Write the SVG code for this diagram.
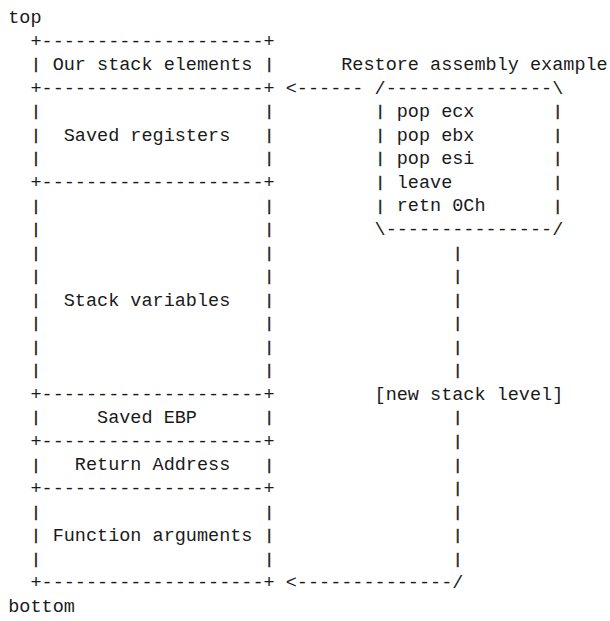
<svg xmlns="http://www.w3.org/2000/svg" xmlns:xlink="http://www.w3.org/1999/xlink" width="610" height="621" viewBox="0 0 610 621" xml:space="preserve">
  <style>
    text { font-family: "Liberation Mono", "Courier New", monospace; font-size: 18.5px; fill: #1a1a1a; white-space: pre; }
    text.bar { font-size: 14px; text-anchor: middle; stroke: #1a1a1a; stroke-width: 0.6px; }
  </style>
  <defs>
    <!-- short vertical stroke used for every box side and the return line -->
    <text id="bar" class="bar" x="0" y="0">|</text>
  </defs>
  <rect width="610" height="621" fill="#fff"/>

  <!-- character grid: cell x = 8.25 + 11.1 * col ; rows step 23.55 -->
  <g id="label-top"><text x="8.25" y="23">top</text></g>

  <g id="seg-our-stack-elements">
    <text x="30.45" y="46.5">+--------------------+</text>
    <use xlink:href="#bar" x="36" y="69.2"/><use xlink:href="#bar" x="269.1" y="69.2"/>
    <text x="52.65" y="70.1">Our stack elements</text>
  </g>

  <g id="seg-saved-registers">
    <text x="30.45" y="93.6">+--------------------+</text>
    <use xlink:href="#bar" x="36" y="116.3"/><use xlink:href="#bar" x="269.1" y="116.3"/>
    <use xlink:href="#bar" x="36" y="139.8"/><use xlink:href="#bar" x="269.1" y="139.8"/>
    <use xlink:href="#bar" x="36" y="163.4"/><use xlink:href="#bar" x="269.1" y="163.4"/>
    <text x="63.75" y="140.7">Saved registers</text>
  </g>

  <g id="seg-stack-variables">
    <text x="30.45" y="187.8">+--------------------+</text>
    <use xlink:href="#bar" x="36" y="210.5"/><use xlink:href="#bar" x="269.1" y="210.5"/>
    <use xlink:href="#bar" x="36" y="234"/><use xlink:href="#bar" x="269.1" y="234"/>
    <use xlink:href="#bar" x="36" y="257.6"/><use xlink:href="#bar" x="269.1" y="257.6"/>
    <use xlink:href="#bar" x="36" y="281.1"/><use xlink:href="#bar" x="269.1" y="281.1"/>
    <use xlink:href="#bar" x="36" y="304.7"/><use xlink:href="#bar" x="269.1" y="304.7"/>
    <use xlink:href="#bar" x="36" y="328.2"/><use xlink:href="#bar" x="269.1" y="328.2"/>
    <use xlink:href="#bar" x="36" y="351.8"/><use xlink:href="#bar" x="269.1" y="351.8"/>
    <use xlink:href="#bar" x="36" y="375.3"/><use xlink:href="#bar" x="269.1" y="375.3"/>
    <text x="63.75" y="305.6">Stack variables</text>
  </g>

  <g id="seg-saved-ebp">
    <text x="30.45" y="399.8">+--------------------+</text>
    <use xlink:href="#bar" x="36" y="422.4"/><use xlink:href="#bar" x="269.1" y="422.4"/>
    <text x="97.05" y="423.3">Saved EBP</text>
  </g>

  <g id="seg-return-address">
    <text x="30.45" y="446.9">+--------------------+</text>
    <use xlink:href="#bar" x="36" y="469.5"/><use xlink:href="#bar" x="269.1" y="469.5"/>
    <text x="74.85" y="470.4">Return Address</text>
  </g>

  <g id="seg-function-arguments">
    <text x="30.45" y="494">+--------------------+</text>
    <use xlink:href="#bar" x="36" y="516.6"/><use xlink:href="#bar" x="269.1" y="516.6"/>
    <use xlink:href="#bar" x="36" y="540.2"/><use xlink:href="#bar" x="269.1" y="540.2"/>
    <use xlink:href="#bar" x="36" y="563.7"/><use xlink:href="#bar" x="269.1" y="563.7"/>
    <text x="52.65" y="541.1">Function arguments</text>
    <text x="30.45" y="588.2">+--------------------+</text>
  </g>

  <g id="restore-assembly">
    <text x="341.25" y="70.1">Restore assembly example</text>
    <text x="374.55" y="93.6">/---------------\</text>
    <use xlink:href="#bar" x="380.1" y="116.3"/><use xlink:href="#bar" x="557.7" y="116.3"/>
    <use xlink:href="#bar" x="380.1" y="139.8"/><use xlink:href="#bar" x="557.7" y="139.8"/>
    <use xlink:href="#bar" x="380.1" y="163.4"/><use xlink:href="#bar" x="557.7" y="163.4"/>
    <use xlink:href="#bar" x="380.1" y="186.9"/><use xlink:href="#bar" x="557.7" y="186.9"/>
    <use xlink:href="#bar" x="380.1" y="210.5"/><use xlink:href="#bar" x="557.7" y="210.5"/>
    <text x="396.75" y="117.2">pop ecx</text>
    <text x="396.75" y="140.7">pop ebx</text>
    <text x="396.75" y="164.3">pop esi</text>
    <text x="396.75" y="187.8">leave</text>
    <text x="396.75" y="211.4">retn 0Ch</text>
    <text x="374.55" y="234.9">\---------------/</text>
  </g>

  <g id="connectors">
    <text x="285.75" y="93.6">&lt;------</text>
    <use xlink:href="#bar" x="457.8" y="257.6"/>
    <use xlink:href="#bar" x="457.8" y="281.1"/>
    <use xlink:href="#bar" x="457.8" y="304.7"/>
    <use xlink:href="#bar" x="457.8" y="328.2"/>
    <use xlink:href="#bar" x="457.8" y="351.8"/>
    <use xlink:href="#bar" x="457.8" y="375.3"/>
    <text x="374.55" y="399.8">[new stack level]</text>
    <use xlink:href="#bar" x="457.8" y="422.4"/>
    <use xlink:href="#bar" x="457.8" y="446"/>
    <use xlink:href="#bar" x="457.8" y="469.5"/>
    <use xlink:href="#bar" x="457.8" y="493.1"/>
    <use xlink:href="#bar" x="457.8" y="516.6"/>
    <use xlink:href="#bar" x="457.8" y="540.2"/>
    <use xlink:href="#bar" x="457.8" y="563.7"/>
    <text x="285.75" y="588.2">&lt;--------------/</text>
  </g>

  <g id="label-bottom"><text x="8.25" y="611.7">bottom</text></g>
</svg>
